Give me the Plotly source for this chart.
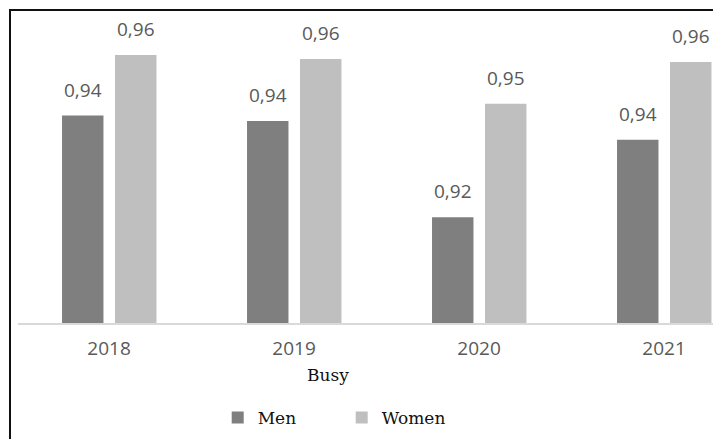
import plotly.graph_objects as go

# ---- data ----
years = ["2018", "2019", "2020", "2021"]
men = [0.9432, 0.9418, 0.9171, 0.9370]
women = [0.9587, 0.9577, 0.9462, 0.9569]
series_names = ["Men", "Women"]
axis_title = "Busy"

# ---- style ----
MEN_COLOR = "#7f7f7f"
WOMEN_COLOR = "#bfbfbf"
LABEL_COLOR = "#595959"
PAGE_OFF = 8  # default body margin of the html page
W, H = 721 - PAGE_OFF, 439 - PAGE_OFF
ML, MR, MT, MB = 10, 0, 12, 116
BAR_W = 0.224
OFF_MEN = -0.254
OFF_WOMEN = 0.0324
Y_MIN, Y_MAX = 0.89, 0.9677
X_RANGE = [-0.492, 3.308]

plot_w = W - ML - MR
plot_h = H - MT - MB
bottom = H - MB


def px_x(ref_x):
    return (ref_x - PAGE_OFF - ML) / plot_w


def px_y(ref_y):
    return (bottom - (ref_y - PAGE_OFF)) / plot_h


fig = go.Figure()
for name, vals, color, off in [(series_names[0], men, MEN_COLOR, OFF_MEN),
                               (series_names[1], women, WOMEN_COLOR, OFF_WOMEN)]:
    fig.add_trace(go.Bar(
        x=years, y=vals, name=name, marker_color=color,
        marker_line_width=0, width=BAR_W, offset=off,
        hoverinfo="skip",
    ))

annotations = []
for vals, off in [(men, OFF_MEN), (women, OFF_WOMEN)]:
    for i, v in enumerate(vals):
        annotations.append(dict(
            x=i + off + BAR_W / 2, y=v, xref="x", yref="y",
            text=f"{v:.2f}".replace(".", ","), showarrow=False,
            yanchor="middle", yshift=26,
            font=dict(family="Open Sans", size=19, color=LABEL_COLOR),
        ))

annotations.append(dict(
    x=px_x(327.7), y=px_y(375), xref="paper", yref="paper",
    text=axis_title, showarrow=False, xanchor="center", yanchor="middle",
    font=dict(family="DejaVu Serif", size=17, color="#111111"),
))

fig.update_layout(
    width=W, height=H,
    margin=dict(l=ML, r=MR, t=MT, b=MB, pad=0),
    paper_bgcolor="white", plot_bgcolor="white",
    barmode="overlay",
    showlegend=True,
    legend=dict(
        orientation="h", x=px_x(217.7), xanchor="left",
        y=px_y(418), yanchor="middle",
        font=dict(family="DejaVu Serif", size=17, color="#111111"),
        bgcolor="rgba(0,0,0,0)", entrywidth=79, traceorder="normal",
    ),
    annotations=annotations,
    xaxis=dict(
        type="category", categoryorder="array", categoryarray=years,
        range=X_RANGE, showgrid=False, zeroline=False,
        showline=True, linecolor="#d9d9d9", linewidth=2,
        ticks="", ticklabelstandoff=7,
        tickfont=dict(family="Open Sans", size=19, color=LABEL_COLOR),
    ),
    yaxis=dict(range=[Y_MIN, Y_MAX], visible=False, showgrid=False, zeroline=False),
    shapes=[dict(
        type="rect", xref="paper", yref="paper",
        x0=px_x(10), x1=1.05,
        y0=-0.6, y1=px_y(10),
        line=dict(color="#111111", width=2), fillcolor="rgba(0,0,0,0)", layer="above",
    )],
)

fig.write_html("out.html")
